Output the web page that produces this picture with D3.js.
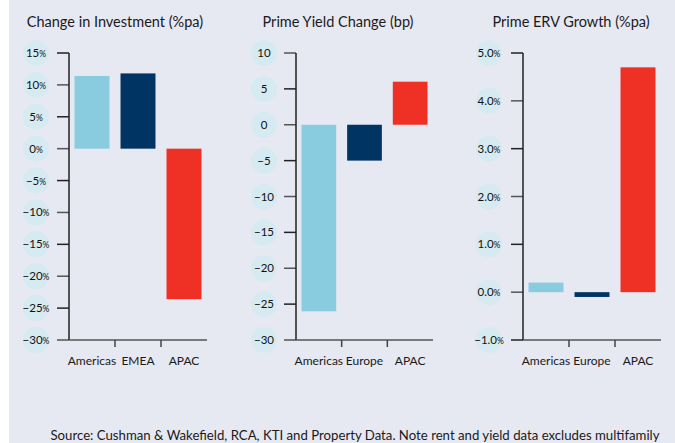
<!DOCTYPE html>
<html>
<head>
<meta charset="utf-8">
<script src="https://cdn.jsdelivr.net/npm/d3@7"></script>
<style>
  body { margin: 0; background: #fff; }
  svg { display: block; font-family: Lato, "Open Sans", sans-serif; }
</style>
</head>
<body>
<svg></svg>
<script>
const width = 675
const height = 443

// data
const investRegions = ["Americas", "EMEA", "APAC"]
const investValues = [11.4, 11.8, -23.6]
const investTicks = [15, 10, 5, 0, -5, -10, -15, -20, -25, -30]

const yieldRegions = ["Americas", "Europe", "APAC"]
const yieldValues = [-26, -5, 6]
const yieldTicks = [10, 5, 0, -5, -10, -15, -20, -25, -30]

const ervRegions = ["Americas", "Europe", "APAC"]
const ervValues = [0.2, -0.1, 4.7]
const ervTicks = [5, 4, 3, 2, 1, 0, -1]

const colors = ["#89cbdf", "#003462", "#ef3125"]

const svg = d3.select('svg')
  .attr('width', width)
  .attr('height', height)

svg.append('rect')
  .attr('x', 9).attr('y', 0)
  .attr('width', width - 9).attr('height', height)
  .attr('fill', '#e6e8f2')

const plotTop = 53, plotBottom = 340

function panel(opts) {
  const g = svg.append('g')

  const y = d3.scaleLinear()
    .domain(opts.domain)
    .range([plotBottom, plotTop])

  const x = d3.scaleBand()
    .domain(opts.regions)
    .range([opts.x0, opts.x1])
    .paddingInner(0.24)
    .paddingOuter(0.12)

  g.append('text')
    .attr('x', opts.titleX)
    .attr('y', 27)
    .attr('text-anchor', 'middle')
    .attr('font-size', 14.5)
    .attr('fill', '#1a1a1a')
    .text(opts.title)

  // label bubbles
  g.selectAll('.bubble')
    .data(opts.ticks)
    .enter().append('circle')
      .attr('cx', opts.labelX)
      .attr('cy', d => y(d))
      .attr('r', 13)
      .attr('fill', '#d6eaf1')

  const lbl = g.selectAll('.tlabel')
    .data(opts.ticks)
    .enter().append('text')
      .attr('x', opts.labelX)
      .attr('y', d => y(d) + 4)
      .attr('text-anchor', 'middle')
      .attr('font-size', 11.5)
      .attr('fill', '#111')
  lbl.append('tspan').text(d => opts.fmt(d))
  if (opts.pct) lbl.append('tspan').attr('font-size', 8.5).text('%')

  // y ticks
  g.selectAll('.ytick')
    .data(opts.ticks)
    .enter().append('line')
      .attr('x1', opts.x0 - 12).attr('x2', opts.x0)
      .attr('y1', d => y(d)).attr('y2', d => y(d))
      .attr('stroke', d => d % 2 === 0 ? '#555' : '#222')
      .attr('stroke-width', 1.5)

  // bars
  g.selectAll('.bar')
    .data(opts.values)
    .enter().append('rect')
      .attr('x', (d, i) => x(opts.regions[i]))
      .attr('width', x.bandwidth())
      .attr('y', d => y(Math.max(0, d)))
      .attr('height', d => Math.abs(y(d) - y(0)))
      .attr('fill', (d, i) => colors[i])

  // y axis line
  g.append('line')
    .attr('x1', opts.x0).attr('x2', opts.x0)
    .attr('y1', plotTop).attr('y2', plotBottom)
    .attr('stroke', '#222').attr('stroke-width', 1.5)

  // x axis line
  g.append('line')
    .attr('x1', opts.x0).attr('x2', opts.x1)
    .attr('y1', plotBottom).attr('y2', plotBottom)
    .attr('stroke', '#555').attr('stroke-width', 1.5)

  // band separators
  const step = x.step()
  g.selectAll('.xtick')
    .data(opts.regions.slice(1))
    .enter().append('line')
      .attr('x1', d => x(d) - step * 0.12).attr('x2', d => x(d) - step * 0.12)
      .attr('y1', plotBottom).attr('y2', plotBottom + 7)
      .attr('stroke', '#444').attr('stroke-width', 1.5)

  g.selectAll('.xlabel')
    .data(opts.regions)
    .enter().append('text')
      .attr('x', d => x(d) + x.bandwidth() / 2)
      .attr('y', 365)
      .attr('text-anchor', 'middle')
      .attr('font-size', 12)
      .attr('fill', '#1a1a1a')
      .text(d => d)
}

panel({
  title: 'Change in Investment (%pa)', titleX: 115,
  regions: investRegions, values: investValues, ticks: investTicks,
  domain: [-30, 15], x0: 69, x1: 207, labelX: 36,
  pct: true, fmt: d => d3.format('d')(d)
})

panel({
  title: 'Prime Yield Change (bp)', titleX: 338,
  regions: yieldRegions, values: yieldValues, ticks: yieldTicks,
  domain: [-30, 10], x0: 296, x1: 433, labelX: 264,
  pct: false, fmt: d => d3.format('d')(d)
})

panel({
  title: 'Prime ERV Growth (%pa)', titleX: 571,
  regions: ervRegions, values: ervValues, ticks: ervTicks,
  domain: [-1, 5], x0: 523, x1: 661, labelX: 489,
  pct: true, fmt: d => d3.format('.1f')(d)
})

svg.append('text')
  .attr('x', 355)
  .attr('y', 440)
  .attr('text-anchor', 'middle')
  .attr('font-size', 13.2)
  .attr('fill', '#1a1a1a')
  .text('Source: Cushman & Wakefield, RCA, KTI and Property Data. Note rent and yield data excludes multifamily')
</script>
</body>
</html>
